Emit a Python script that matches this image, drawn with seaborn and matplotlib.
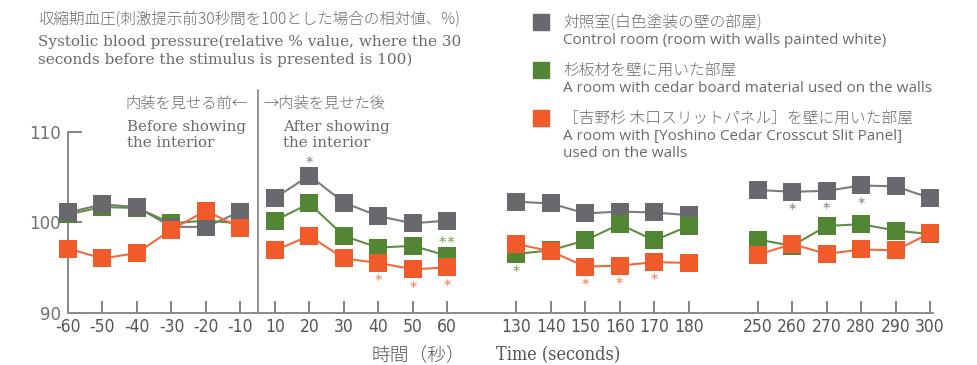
import numpy as np
import pandas as pd
import matplotlib
matplotlib.use("Agg")
import matplotlib.pyplot as plt
import matplotlib.transforms as mtransforms
import seaborn as sns

# ---- data -------------------------------------------------------------
times = [-60, -50, -40, -30, -20, -10, 10, 20, 30, 40, 50, 60,
         130, 140, 150, 160, 170, 180, 250, 260, 270, 280, 290, 300]
# slot on the x axis (gaps between the measurement blocks)
slots = [0, 1, 2, 3, 4, 5, 6, 7, 8, 9, 10, 11,
         13, 14, 15, 16, 17, 18, 20, 21, 22, 23, 24, 25]
segment = [0] * 6 + [1] * 6 + [2] * 6 + [3] * 6

control = [101.1, 102.0, 101.7, 99.5, 99.5, 101.2,
           102.7, 105.2, 102.2, 100.7, 99.9, 100.2,
           102.3, 102.1, 101.0, 101.2, 101.1, 100.8,
           103.6, 103.4, 103.5, 104.1, 104.0, 102.7]
cedar_board = [100.9, 101.7, 101.6, 99.9, 100.2, 99.9,
               100.2, 102.1, 98.5, 97.2, 97.4, 96.3,
               96.5, 96.9, 98.0, 99.8, 98.0, 99.6,
               98.1, 97.4, 99.6, 99.8, 99.1, 98.7]
slit_panel = [97.1, 96.0, 96.6, 99.2, 101.3, 99.4,
              96.9, 98.5, 96.0, 95.5, 94.8, 95.0,
              97.6, 96.8, 95.1, 95.2, 95.6, 95.5,
              96.4, 97.6, 96.5, 97.0, 96.9, 98.8]

series_names = ["control", "cedar", "slit"]
series_colors = {"control": "#68686d", "cedar": "#528534", "slit": "#f15a29"}
line_colors = {"control": "#7b7b80", "cedar": "#5e8f42", "slit": "#f26a3c"}
star_colors = {"control": "#8d8d92", "cedar": "#80aa68", "slit": "#f58a62"}

# significance marks: series, time, side (+1 above / -1 below), text
sig_series = ["control", "cedar", "slit", "slit", "slit",
              "cedar", "slit", "slit", "slit",
              "control", "control", "control"]
sig_times = [20, 60, 40, 50, 60, 130, 150, 160, 170, 260, 270, 280]
sig_side = [1, 1, -1, -1, -1, -1, -1, -1, -1, -1, -1, -1]
sig_text = ["∗", "∗∗", "∗", "∗", "∗", "∗", "∗", "∗", "∗", "∗", "∗", "∗"]

xtick_labels = [str(t) for t in times]
ytick_values = [90, 100, 110]

title_ja = "収縮期血圧(刺激提示前30秒間を100とした場合の相対値、%)"
title_en = ("Systolic blood pressure(relative % value, where the 30\n"
            "seconds before the stimulus is presented is 100)")
legend_ja = ["対照室(白色塗装の壁の部屋)",
             "杉板材を壁に用いた部屋",
             "［吉野杉 木口スリットパネル］を壁に用いた部屋"]
legend_en = ["Control room (room with walls painted white)",
             "A room with cedar board material used on the walls",
             "A room with [Yoshino Cedar Crosscut Slit Panel]\nused on the walls"]

# ---- long table -------------------------------------------------------
values = {"control": control, "cedar": cedar_board, "slit": slit_panel}
df = pd.concat([
    pd.DataFrame({"slot": slots, "time": times, "segment": segment,
                  "series": name, "value": values[name]})
    for name in series_names
], ignore_index=True)

# ---- figure -----------------------------------------------------------
sns.set_theme(style="white")
plt.rcParams["font.family"] = ["Noto Sans CJK JP", "DejaVu Sans"]

TXT = "#6a6a6a"
JA = dict(color=TXT, fontweight="light")

fig = plt.figure(figsize=(9.77, 3.65), dpi=100)
ax = fig.add_axes([68 / 977, 52.5 / 365, 865.5 / 977, 180.2 / 365])

sns.lineplot(data=df, x="slot", y="value", hue="series", units="segment",
             estimator=None, palette=line_colors, linewidth=1.5,
             legend=False, ax=ax, zorder=2)

# square markers; before the stimulus the control sits on top of the cedar
for seg in range(4):
    order = ["cedar", "control", "slit"] if seg == 0 else ["control", "cedar", "slit"]
    for k, name in enumerate(order):
        sub = df[(df.segment == seg) & (df.series == name)]
        sns.scatterplot(data=sub, x="slot", y="value", marker="s", s=155,
                        color=series_colors[name], linewidth=0, ax=ax,
                        zorder=3 + k, clip_on=False, legend=False)

# significance asterisks
for name, t, side, txt in zip(sig_series, sig_times, sig_side, sig_text):
    row = df[(df.series == name) & (df.time == t)].iloc[0]
    ax.annotate(txt, (row.slot, row.value), xytext=(0, 11 * side),
                textcoords="offset points", ha="center", va="center",
                fontsize=8, color=star_colors[name], family="DejaVu Sans",
                zorder=8)

# axes styling
ax.set_xlim(0, 25.1)
ax.set_ylim(90, 110)
ax.set_xlabel("")
ax.set_ylabel("")
for side in ["top", "right"]:
    ax.spines[side].set_visible(False)
for side in ["left", "bottom"]:
    ax.spines[side].set_color("#8a8a8a")
    ax.spines[side].set_linewidth(1.4)
    ax.spines[side].set_zorder(1)

ax.set_xticks(slots)
ax.set_xticklabels(xtick_labels, fontsize=12.5, color="#555555",
                   family="DejaVu Sans", fontstretch="condensed")
ax.set_yticks(ytick_values)
ax.set_yticklabels([str(v) for v in ytick_values], fontsize=12,
                   color="#707070", family="DejaVu Sans")
ax.tick_params(axis="x", direction="in", length=9, width=1.3,
               color="#7a7a7a", pad=4, bottom=True)
ax.tick_params(axis="y", direction="in", length=10, width=1.3,
               color="#7a7a7a", pad=5, left=True)

# divider between before / after
trans = mtransforms.blended_transform_factory(ax.transData, ax.transAxes)
ax.plot([5.5, 5.5], [0, 1.235], transform=trans, color="#8a8a8a",
        linewidth=1.3, clip_on=False, zorder=1)

# phase labels
fig.text(125 / 977, 1 - 104 / 365, "内装を見せる前←", fontsize=11,
         va="center", ha="left", **JA)
fig.text(127 / 977, 1 - 135 / 365, "Before showing\nthe interior",
         fontsize=10.8, color=TXT, va="center", ha="left",
         family="DejaVu Serif", linespacing=1.1)
fig.text(263 / 977, 1 - 104 / 365, "→内装を見せた後", fontsize=11,
         va="center", ha="left", **JA)
fig.text(283 / 977, 1 - 135 / 365, "After showing\nthe interior",
         fontsize=10.8, color=TXT, va="center", ha="left",
         family="DejaVu Serif", linespacing=1.1)

# title block
fig.text(38 / 977, 1 - 19 / 365, title_ja, fontsize=11.2, va="center",
         ha="left", **JA)
fig.text(38 / 977, 1 - 51 / 365, title_en, fontsize=11, color=TXT,
         va="center", ha="left", family="DejaVu Serif", linespacing=1.3)

# legend
leg_y = [22, 70, 118]
for name, y, ja, en in zip(series_names, leg_y, legend_ja, legend_en):
    fig.patches.append(plt.Rectangle((533 / 977, 1 - (y + 8) / 365),
                                     16 / 977, 16 / 365,
                                     transform=fig.transFigure,
                                     color=series_colors[name]))
    fig.text(563 / 977, 1 - y / 365, ja, fontsize=11.3, va="center",
             ha="left", **JA)
    fig.text(563 / 977, 1 - (y + 11) / 365, en, fontsize=11,
             color=TXT, va="top", ha="left", family="Open Sans",
             linespacing=1.2)

# x axis title
fig.text(418 / 977, 1 - 355 / 365, "時間（秒）", fontsize=13.5, va="center",
         ha="center", color="#555555", fontweight="light")
fig.text(558 / 977, 1 - 355 / 365, "Time (seconds)", fontsize=13,
         color="#555555", va="center", ha="center", family="DejaVu Serif",
         fontstretch="condensed")

fig.savefig("out.png", dpi=100)
